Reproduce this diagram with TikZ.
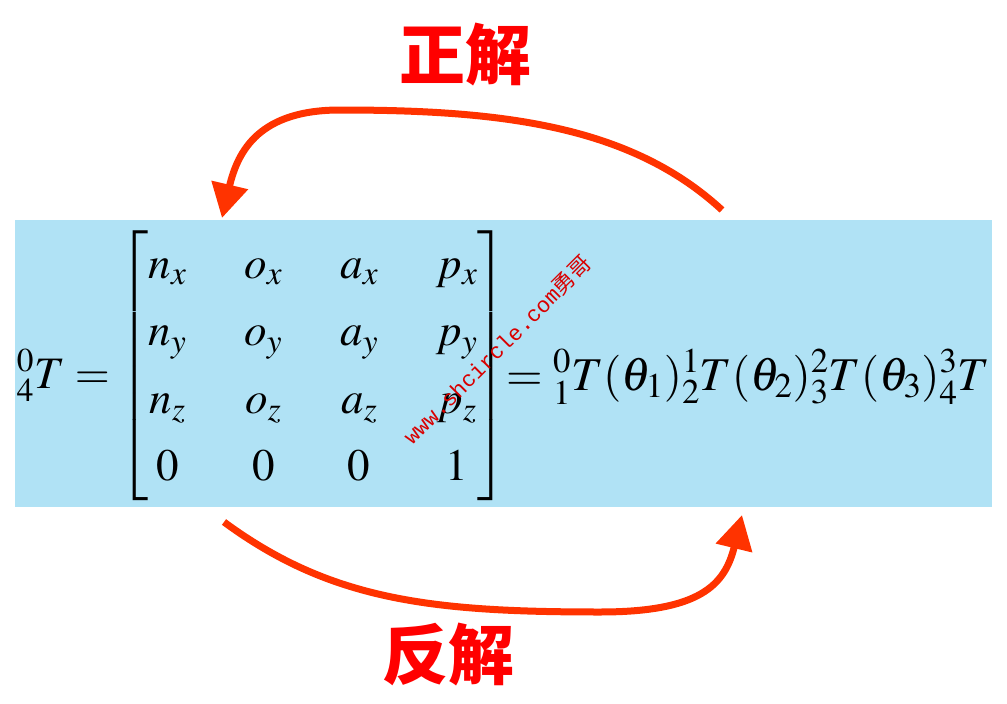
\documentclass[tikz,border=0pt]{standalone}
\usepackage{amsmath}
\usepackage{mathptmx}
\usepackage{fontspec}
\usetikzlibrary{arrows.meta}
\newfontfamily\cjk{Noto Sans CJK SC}
\newfontfamily\wmfont{Liberation Mono}
\definecolor{bandblue}{RGB}{176,226,245}
\definecolor{arcred}{RGB}{255,51,0}

\begin{document}
\begin{tikzpicture}[
        x=1pt, y=-1pt,
        band/.style={
            rectangle,
            fill=bandblue,
            minimum width=977pt,
            minimum height=287pt,
            inner sep=0pt
        },
        eqn/.style={
            inner sep=0pt,
            font=\fontsize{45}{52}\selectfont
        },
        title/.style={
            inner sep=0pt,
            text=red,
            font=\fontsize{66}{70}\selectfont\cjk\bfseries
        },
        wmark/.style={
            inner sep=0pt,
            text=red!85!black,
            font=\fontsize{22}{24}\selectfont\wmfont
        },
        arc/.style={draw=arcred, line width=7pt, -{Triangle[length=34pt,width=36pt]}}
    ]

        \useasboundingbox (0,0) rectangle (1007,704);

        \node[band] (band) at (503.5,363.5) {};

        \node[eqn, anchor=base east] (lhs) at (110,388) {${}^{0}_{4}T=$};
        \node[eqn] (mat) at (313,366) {\setlength\arraycolsep{29pt}\renewcommand\arraystretch{1.3}%
            $\left[\begin{matrix}
                n_x & o_x & a_x & p_x\\
                n_y & o_y & a_y & p_y\\
                n_z & o_z & a_z & p_z\\
                0 & 0 & 0 & 1
            \end{matrix}\right]$};
        \node[eqn, anchor=base west, font=\fontsize{47}{52}\selectfont] (rhs) at (506,390)
            {$={}^{0}_{1}T(\theta_1){}^{1}_{2}T(\theta_2){}^{2}_{3}T(\theta_3){}^{3}_{4}T$};

        \node[wmark, rotate=45] (wm) at (497,350) {www.shcircle.com{\cjk 勇哥}};

        \node[title] (fwd) at (465,55) {正解};
        \node[title] (inv) at (448,655) {反解};

        \coordinate (fwdstart) at (722,210);
        \coordinate (fwdend) at (222,218);
        \coordinate (invstart) at (224,522);
        \coordinate (invend) at (742,515);

        \draw[arc] (fwdstart) .. controls (630,125) and (500,110) .. (340,110)
            .. controls (260,110) and (238,150) .. (fwdend);
        \draw[arc] (invstart) .. controls (330,600) and (430,612) .. (600,612)
            .. controls (700,612) and (725,585) .. (invend);

    \end{tikzpicture}
\end{document}
